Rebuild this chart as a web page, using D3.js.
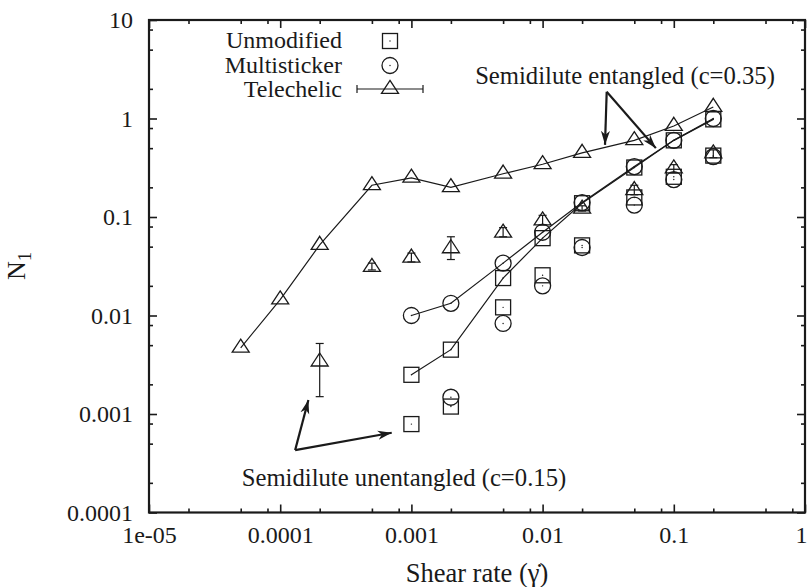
<!DOCTYPE html>
<html>
<head>
<meta charset="utf-8">
<script src="https://cdn.jsdelivr.net/npm/d3@7"></script>
<style>
  html, body { margin: 0; padding: 0; background: #fff; }
  svg { display: block; }
  text { font-family: "Liberation Serif", "Times New Roman", serif; fill: #1a1a1a; }
</style>
</head>
<body>
<svg id="chart" width="808" height="587"></svg>
<script>
// ---------- data ----------
const xTickValues = [1e-5, 1e-4, 1e-3, 1e-2, 1e-1, 1];
const xTickLabels = ["1e-05", "0.0001", "0.001", "0.01", "0.1", "1"];
const yTickValues = [1e-4, 1e-3, 1e-2, 1e-1, 1, 10];
const yTickLabels = ["0.0001", "0.001", "0.01", "0.1", "1", "10"];
const minorFactors = [2, 5, 8];

const seriesNames = ["Unmodified", "Multisticker", "Telechelic"];

// Semidilute entangled (c=0.35) - connected with lines
const telechelicEntX = [5e-5, 1e-4, 2e-4, 5e-4, 1e-3, 2e-3, 5e-3, 0.01, 0.02, 0.05, 0.1, 0.2];
const telechelicEnt  = [0.0047, 0.0145, 0.052, 0.21, 0.25, 0.20, 0.275, 0.343, 0.447, 0.60, 0.84, 1.31];
const unmodEntX = [1e-3, 2e-3, 5e-3, 0.01, 0.02, 0.05, 0.1, 0.2];
const unmodEnt  = [0.0025, 0.0045, 0.024, 0.061, 0.138, 0.318, 0.60, 0.98];
const multiEntX = [1e-3, 2e-3, 5e-3, 0.01, 0.02, 0.05, 0.1, 0.2];
const multiEnt  = [0.0100, 0.0133, 0.034, 0.070, 0.140, 0.325, 0.60, 1.0];

// Semidilute unentangled (c=0.15) - points only
const telechelicUnentX  = [2e-4, 5e-4, 1e-3, 2e-3, 5e-3, 0.01, 0.02, 0.05, 0.1, 0.2];
const telechelicUnent   = [0.0034, 0.031, 0.0386, 0.048, 0.069, 0.092, 0.121, 0.187, 0.31, 0.44];
const telechelicUnentLo = [0.0015, 0.029, 0.035, 0.037, 0.063, 0.083, 0.115, 0.168, 0.28, 0.40];
const telechelicUnentHi = [0.0052, 0.034, 0.043, 0.063, 0.078, 0.104, 0.130, 0.210, 0.34, 0.48];
const unmodUnentX = [1e-3, 2e-3, 5e-3, 0.01, 0.02, 0.05, 0.1, 0.2];
const unmodUnent  = [0.00079, 0.00119, 0.0121, 0.0256, 0.0515, 0.158, 0.256, 0.42];
const multiUnentX = [2e-3, 5e-3, 0.01, 0.02, 0.05, 0.1, 0.2];
const multiUnent  = [0.00148, 0.0083, 0.020, 0.049, 0.132, 0.24, 0.41];

// annotations (data coordinates)
const entLabel = "Semidilute entangled (c=0.35)";
const entLabelPos = [0.00306, 2.24];
const entArrowFrom = [0.0308, 1.87];
const entArrowTo = [[0.0299, 0.54], [0.073, 0.50]];
const unentLabel = "Semidilute unentangled (c=0.15)";
const unentLabelPos = [5.09e-5, 1.86e-4];
const unentArrowFrom = [1.3e-4, 4.3e-4];
const unentArrowTo = [[1.64e-4, 1.39e-3], [7.08e-4, 6.45e-4]];

// ---------- layout ----------
const L = 149, R = 805, T = 20, B = 512.5;
const ink = "#1a1a1a";
const FONT = '"Liberation Serif", "Times New Roman", serif';
const svg = d3.select("#chart");

const x = d3.scaleLog().domain([1e-5, 1]).range([L, R]);
const y = d3.scaleLog().domain([1e-4, 10]).range([B, T]);

const minorX = [];
for (let d = -5; d < 0; d++) minorFactors.forEach(f => minorX.push(f * Math.pow(10, d)));
const minorY = [];
for (let d = -4; d < 1; d++) minorFactors.forEach(f => minorY.push(f * Math.pow(10, d)));

function styleAxis(g) {
  g.attr("font-family", FONT);
  g.select(".domain").remove();
  g.selectAll(".tick line").attr("stroke", ink).attr("stroke-width", 1.6);
  g.selectAll(".tick text").style("font-size", "24px").attr("fill", ink)
    .style("font-family", FONT);
}

const fmtX = d => xTickLabels[xTickValues.indexOf(d)];
const fmtY = d => yTickLabels[yTickValues.indexOf(d)];

// bottom
const bottomAxis = svg.append("g").attr("transform", `translate(0,${B})`)
  .call(d3.axisBottom(x).tickValues(xTickValues).tickSize(-8).tickPadding(13).tickFormat(fmtX))
  .call(styleAxis);
// last label sits at the right edge: keep it inside the picture
bottomAxis.selectAll(".tick text").filter(d => d === 1)
  .attr("text-anchor", "end").attr("x", 807 - R);
svg.append("g").attr("transform", `translate(0,${B})`)
  .call(d3.axisBottom(x).tickValues(minorX).tickSize(-4).tickFormat(""))
  .call(styleAxis);
// top
svg.append("g").attr("transform", `translate(0,${T})`)
  .call(d3.axisTop(x).tickValues(xTickValues).tickSize(-8).tickFormat(""))
  .call(styleAxis);
svg.append("g").attr("transform", `translate(0,${T})`)
  .call(d3.axisTop(x).tickValues(minorX).tickSize(-4).tickFormat(""))
  .call(styleAxis);
// left
svg.append("g").attr("transform", `translate(${L},0)`)
  .call(d3.axisLeft(y).tickValues(yTickValues).tickSize(-8).tickPadding(16).tickFormat(fmtY))
  .call(styleAxis);
svg.append("g").attr("transform", `translate(${L},0)`)
  .call(d3.axisLeft(y).tickValues(minorY).tickSize(-4).tickFormat(""))
  .call(styleAxis);
// right
svg.append("g").attr("transform", `translate(${R},0)`)
  .call(d3.axisRight(y).tickValues(yTickValues).tickSize(-8).tickFormat(""))
  .call(styleAxis);
svg.append("g").attr("transform", `translate(${R},0)`)
  .call(d3.axisRight(y).tickValues(minorY).tickSize(-4).tickFormat(""))
  .call(styleAxis);

// frame
svg.append("rect").attr("x", L).attr("y", T).attr("width", R - L).attr("height", B - T)
  .attr("fill", "none").attr("stroke", ink).attr("stroke-width", 2.2);

// axis titles
svg.append("text").attr("x", 477).attr("y", 582).attr("text-anchor", "middle")
  .style("font-size", "26.5px").text("Shear rate (γ̇)");
const yl = svg.append("text").attr("transform", "translate(25,266) rotate(-90)")
  .attr("text-anchor", "middle").style("font-size", "26px");
yl.append("tspan").text("N");
yl.append("tspan").attr("dy", 6).style("font-size", "18px").text("1");

// ---------- marks ----------
const plot = svg.append("g");
const SQ = 15, CR = 8, TW = 17, TH = 13;

function square(g, cx, cy) {
  g.append("rect").attr("x", cx - SQ / 2).attr("y", cy - SQ / 2).attr("width", SQ).attr("height", SQ)
    .attr("fill", "none").attr("stroke", ink).attr("stroke-width", 1.3);
  g.append("circle").attr("cx", cx).attr("cy", cy).attr("r", 0.7).attr("fill", ink);
}
function circle(g, cx, cy) {
  g.append("circle").attr("cx", cx).attr("cy", cy).attr("r", CR)
    .attr("fill", "none").attr("stroke", ink).attr("stroke-width", 1.3);
  g.append("circle").attr("cx", cx).attr("cy", cy).attr("r", 0.7).attr("fill", ink);
}
function triangle(g, cx, cy) {
  const p = `M${cx},${cy - TH * 2 / 3} L${cx + TW / 2},${cy + TH / 3} L${cx - TW / 2},${cy + TH / 3} Z`;
  g.append("path").attr("d", p).attr("fill", "none").attr("stroke", ink).attr("stroke-width", 1.3);
}
function errbar(g, cx, y1, y2, cap) {
  g.append("line").attr("x1", cx).attr("x2", cx).attr("y1", y1).attr("y2", y2)
    .attr("stroke", ink).attr("stroke-width", 1.2);
  [y1, y2].forEach(yy => g.append("line").attr("x1", cx - cap).attr("x2", cx + cap)
    .attr("y1", yy).attr("y2", yy).attr("stroke", ink).attr("stroke-width", 1.2));
}

const line = d3.line().x(d => x(d[0])).y(d => y(d[1]));
function drawLine(xs, ys) {
  plot.append("path").datum(d3.zip(xs, ys)).attr("d", line)
    .attr("fill", "none").attr("stroke", ink).attr("stroke-width", 1.2);
}

// unentangled points
unmodUnentX.forEach((v, i) => square(plot, x(v), y(unmodUnent[i])));
multiUnentX.forEach((v, i) => circle(plot, x(v), y(multiUnent[i])));
telechelicUnentX.forEach((v, i) => {
  errbar(plot, x(v), y(telechelicUnentHi[i]), y(telechelicUnentLo[i]), 4);
  triangle(plot, x(v), y(telechelicUnent[i]));
});

// entangled connected
drawLine(unmodEntX, unmodEnt);
drawLine(multiEntX, multiEnt);
drawLine(telechelicEntX, telechelicEnt);
unmodEntX.forEach((v, i) => square(plot, x(v), y(unmodEnt[i])));
multiEntX.forEach((v, i) => circle(plot, x(v), y(multiEnt[i])));
telechelicEntX.forEach((v, i) => triangle(plot, x(v), y(telechelicEnt[i])));

// ---------- legend ----------
const leg = svg.append("g");
const legTextX = 342, legSymX = 390;
const legBase = [48, 73, 97];
seriesNames.forEach((n, i) => {
  leg.append("text").attr("x", legTextX).attr("y", legBase[i]).attr("text-anchor", "end")
    .style("font-size", "24px").text(n);
});
square(leg, legSymX, 41);
circle(leg, legSymX, 65.5);
leg.append("line").attr("x1", legSymX - 33).attr("x2", legSymX + 33).attr("y1", 89).attr("y2", 89)
  .attr("stroke", ink).attr("stroke-width", 1.2);
[legSymX - 33, legSymX + 33].forEach(xx => leg.append("line").attr("x1", xx).attr("x2", xx)
  .attr("y1", 85).attr("y2", 93).attr("stroke", ink).attr("stroke-width", 1.2));
triangle(leg, legSymX, 89);

// ---------- annotations ----------
svg.append("defs").append("marker").attr("id", "ah")
  .attr("viewBox", "-14 -6 16 12").attr("refX", 0).attr("refY", 0)
  .attr("markerWidth", 16).attr("markerHeight", 12).attr("markerUnits", "userSpaceOnUse")
  .attr("orient", "auto")
  .append("path").attr("d", "M0,0 L-14,-4.5 L-10,0 L-14,4.5 Z").attr("fill", ink);

function arrows(from, tos) {
  tos.forEach(t => svg.append("line")
    .attr("x1", x(from[0])).attr("y1", y(from[1]))
    .attr("x2", x(t[0])).attr("y2", y(t[1]))
    .attr("stroke", ink).attr("stroke-width", 2.2).attr("marker-end", "url(#ah)"));
}
svg.append("text").attr("x", x(entLabelPos[0])).attr("y", y(entLabelPos[1]))
  .style("font-size", "24.7px").text(entLabel);
arrows(entArrowFrom, entArrowTo);
svg.append("text").attr("x", x(unentLabelPos[0])).attr("y", y(unentLabelPos[1]))
  .style("font-size", "24.7px").text(unentLabel);
arrows(unentArrowFrom, unentArrowTo);
</script>
</body>
</html>
